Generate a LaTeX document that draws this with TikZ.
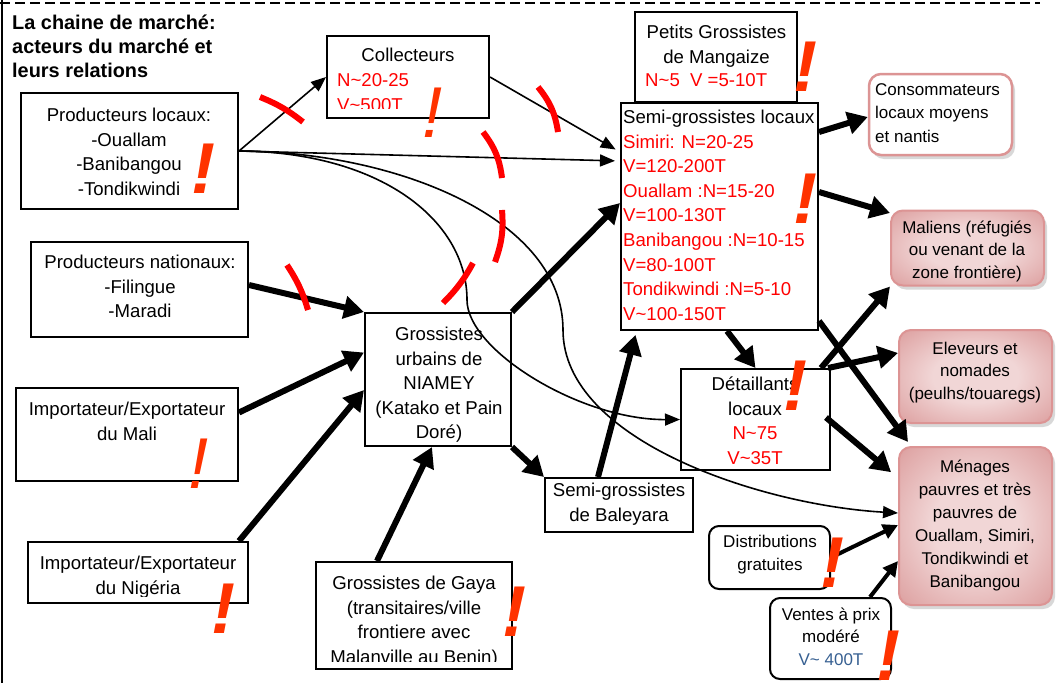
\documentclass[tikz,border=0pt]{standalone}
\usepackage{fontspec}
\setmainfont{Liberation Sans}
\usetikzlibrary{arrows.meta,shadows}
\definecolor{rtext}{RGB}{255,0,0}
\definecolor{excl}{RGB}{255,51,0}
\definecolor{vblue}{RGB}{55,96,146}
\definecolor{pinkL}{RGB}{241,214,214}
\definecolor{pinkM}{RGB}{224,168,168}
\definecolor{pinkD}{RGB}{200,115,115}
\definecolor{pinkB}{RGB}{220,148,148}
\pgfdeclareradialshading{pinkrad}{\pgfpoint{0bp}{0bp}}{color(0bp)=(pinkL); color(14bp)=(pinkL); color(32bp)=(pinkM); color(48bp)=(pinkD); color(72bp)=(pinkD)}
\newcommand{\st}{\rule{0pt}{1em}}
\newcommand{\fA}{\fontsize{18.6}{24.6}\selectfont}
\newcommand{\fB}{\fontsize{17}{23}\selectfont}
\newcommand{\fT}{\fontsize{19.9}{24.2}\selectfont\bfseries}
\newcommand{\fE}{\fontsize{72}{72}\selectfont\bfseries\itshape}
\newcommand{\fEt}{\fontsize{72}{72}\selectfont\itshape}
\begin{document}
\begin{tikzpicture}[x=1pt,y=-1pt,
  box/.style={draw=black, line width=2pt, fill=white, inner sep=0pt},
  pinkbox/.style={draw=pinkB, line width=2pt, rounded corners=12pt, shading=pinkrad, inner sep=0pt,
     drop shadow={shadow xshift=3pt, shadow yshift=-4pt, fill=black!30}},
  whitebox/.style={draw=pinkB, line width=2.5pt, rounded corners=12pt, fill=white, inner sep=0pt,
     drop shadow={shadow xshift=3pt, shadow yshift=-4pt, fill=black!30}},
  roundbox/.style={draw=black, line width=2pt, rounded corners=10pt, fill=white, inner sep=0pt},
  txt/.style={inner sep=0pt, align=center, font=\fA},
  txts/.style={inner sep=0pt, align=center, font=\fB},
  athin/.style={line width=1.6pt, -{Triangle[length=15pt,width=12pt]}},
  athick/.style={line width=6pt, -{Triangle[length=20pt,width=22pt]}},
  amid/.style={line width=4pt, -{Triangle[length=15pt,width=15pt]}},
  rmark/.style={draw=red, line width=6pt},
  ex/.style={inner sep=0pt, anchor=base, text=excl, font=\fE},
  ext/.style={inner sep=0pt, anchor=base, text=excl, font=\fEt}]
\useasboundingbox (0,0) rectangle (1056,683);
\fill[white] (0,0) rectangle (1056,683);
\draw[line width=2pt, dash pattern=on 10pt off 5pt] (0,3) -- (1040,3);
\draw[line width=2pt] (2,0) -- (2,683);

% title
\node[anchor=north west, inner sep=0pt, align=left, font=\fT] (title) at (12,9.3)
  {\st La chaine de marché:\\acteurs du marché et\\leurs relations};

% boxes
\node[box, minimum width=217pt, minimum height=116pt] (plocal) at (129.5,151) {};
\node[box, minimum width=162pt, minimum height=82pt] (coll) at (408,77) {};
\node[box, minimum width=162pt, minimum height=90pt] (petits) at (716,57) {};
\node[box, minimum width=197pt, minimum height=227pt] (semi) at (719.5,216.5) {};
\node[whitebox, minimum width=143pt, minimum height=81pt] (conso) at (940.5,114.5) {};
\node[pinkbox, minimum width=153pt, minimum height=75pt] (maliens) at (967.5,248) {};
\node[pinkbox, minimum width=153pt, minimum height=93pt] (eleveurs) at (975.5,376.5) {};
\node[pinkbox, minimum width=153pt, minimum height=158pt] (menages) at (975.5,526) {};
\node[box, minimum width=217pt, minimum height=95pt] (pnat) at (139.5,289.5) {};
\node[box, minimum width=146pt, minimum height=133pt] (niamey) at (438,379.5) {};
\node[box, minimum width=222pt, minimum height=93pt] (imali) at (127,434.5) {};
\node[box, minimum width=220pt, minimum height=61pt] (inig) at (138,572.5) {};
\node[box, minimum width=196pt, minimum height=107pt] (gaya) at (414,615.5) {};
\node[box, minimum width=148pt, minimum height=54pt] (baley) at (619,505) {};
\node[box, minimum width=149pt, minimum height=101pt] (detail) at (755.5,419.5) {};
\node[roundbox, minimum width=121pt, minimum height=63pt] (distrib) at (769.5,557.5) {};
\node[roundbox, minimum width=121pt, minimum height=81pt] (ventes) at (830.5,638.5) {};

% texts
\node[txt, anchor=north] (plocalT) at (129,102.7) {\st Producteurs locaux:\\-Ouallam\\-Banibangou\\-Tondikwindi};
\begin{scope}
\clip (coll.north west) rectangle ([yshift=11pt]coll.south east);
\node[txt, anchor=north] (collT) at (408,42.7) {\st Collecteurs};
\node[txt, anchor=north west, align=left, text=rtext] (collR) at (337,67.7) {\st N\textasciitilde 20-25\\V\textasciitilde 500T};
\end{scope}
\node[txt, anchor=north] (petitsT) at (716.5,19.7) {\st Petits Grossistes\\de Mangaize};
\node[txt, anchor=north west, text=rtext] (petitsR) at (645,67.7) {\st N\textasciitilde 5\ \ V =5-10T};
\node[txt, anchor=north west, align=left] (semiT) at (623,104.7) {\st Semi-grossistes locaux\\
  \textcolor{rtext}{Simiri: N=20-25}\\\textcolor{rtext}{V=120-200T}\\
  \textcolor{rtext}{Ouallam :N=15-20}\\\textcolor{rtext}{V=100-130T}\\
  \textcolor{rtext}{Banibangou :N=10-15}\\\textcolor{rtext}{V=80-100T}\\
  \textcolor{rtext}{Tondikwindi :N=5-10}\\\textcolor{rtext}{V\textasciitilde 100-150T}};
\node[txts, anchor=north west, align=left, font=\fontsize{17}{23.3}\selectfont] (consoT) at (875,78.2) {\st Consommateurs\\locaux moyens\\et nantis};
\begin{scope}
\clip (maliens.north west) rectangle ([yshift=4pt]maliens.south east);
\node[txts, anchor=north, font=\fontsize{17}{22.5}\selectfont] (maliensT) at (967,216.2) {\st Maliens (réfugiés\\ou venant de la\\zone frontière)};
\end{scope}
\node[txts, anchor=north, font=\fontsize{17}{22.5}\selectfont] (eleveursT) at (975,337.2) {\st Eleveurs et\\nomades\\(peulhs/touaregs)};
\node[txts, anchor=north] (menagesT) at (975,455.2) {\st Ménages\\pauvres et très\\pauvres de\\Ouallam, Simiri,\\Tondikwindi et\\Banibangou};
\node[txts, anchor=north] (distribT) at (770,530.2) {\st Distributions\\gratuites};
\node[txts, anchor=north, font=\fontsize{17}{22.5}\selectfont] (ventesT) at (831,603.2) {\st Ventes à prix\\modéré\\\textcolor{vblue}{V\textasciitilde\ 400T}};
\node[txt, anchor=north] (detailT) at (755,371.7) {\st Détaillants\\locaux\\\textcolor{rtext}{N\textasciitilde 75}\\\textcolor{rtext}{V\textasciitilde 35T}};
\node[txt, anchor=north] (baleyT) at (619,477.7) {\st Semi-grossistes\\de Baleyara};
\node[txt, anchor=north] (niameyT) at (439,321.7) {\st Grossistes\\urbains de\\NIAMEY\\(Katako et Pain\\Doré)};
\begin{scope}
\clip (gaya.north west) rectangle ([yshift=9pt]gaya.south east);
\node[txt, anchor=north] (gayaT) at (414,570.7) {\st Grossistes de Gaya\\(transitaires/ville\\frontiere avec\\Malanville au Benin)};
\end{scope}
\node[txt, anchor=north] (pnatT) at (140,249.7) {\st Producteurs nationaux:\\-Filingue\\-Maradi};
\node[txt, anchor=north] (imaliT) at (127,396.7) {\st Importateur/Exportateur\\du Mali};
\begin{scope}
\clip (inig.north west) rectangle ([yshift=8pt]inig.south east);
\node[txt, anchor=north] (inigT) at (138,550.7) {\st Importateur/Exportateur\\du Nigéria};
\end{scope}

% thin arrows
\draw[athin] (plocal.east) -- (coll.west);
\draw[athin, shorten >=5pt] (coll.east) -- ([yshift=64.5pt]semi.west);
\draw[athin, shorten >=5pt] (plocal.east) -- ([yshift=55.5pt]semi.west);
\draw[athin] (plocal.east) .. controls (380,152) and (467,220) .. (467,300)
   .. controls (467,350) and (580,420) .. (detail.west);
\draw[athin] (plocal.east) .. controls (400,152) and (563,220) .. (563,330)
   .. controls (563,440) and (760,505) .. ([yshift=13pt]menages.west);

% thick arrows
\draw[athick] ([yshift=4.5pt]pnat.east) -- (niamey.north west);
\draw[athick] ([yshift=22pt]imali.east) -- ([yshift=27pt]niamey.west);
\draw[athick] ([xshift=-10pt]inig.north east) -- ([yshift=-10.5pt]niamey.west);
\draw[athick] ([xshift=-37pt]gaya.north) -- ([xshift=-6pt]niamey.south);
\draw[athick] (niamey.north east) -- ([yshift=13.5pt]semi.west);
\draw[athick] (niamey.south east) -- (baley.north west);
\draw[athick, shorten >=4pt] ([xshift=-21pt]baley.north) -- ([xshift=-83pt]semi.south);
\draw[athick] ([xshift=7.5pt]semi.south) -- (detail.north);
\draw[athick] ([yshift=84.5pt]semi.east) -- ([yshift=-2.5pt]conso.west);
\draw[athick] ([yshift=24.5pt]semi.east) -- ([yshift=35pt]maliens.west);
\draw[athick, shorten >=5pt] ([yshift=10pt]semi.south east) -- ([xshift=13pt]menages.north west);
\draw[athick] ([xshift=-10pt]detail.north east) -- (maliens.south west);
\draw[athick] ([xshift=-3pt]detail.north east) -- ([yshift=23.5pt]eleveurs.west);
\draw[athick, shorten >=9pt] ([xshift=-5pt,yshift=2pt]detail.east) -- ([yshift=48pt]menages.west);
\draw[amid] (distrib.east) -- ([yshift=1pt]menages.west);
\draw[amid] ([xshift=39.5pt]ventes.north) -- ([yshift=-35pt]menages.west);

% red cut marks
\draw[rmark] (260,97) to[bend left=8] (303,122);
\draw[rmark] (538,87) to[bend left=15] (558,132);
\draw[rmark] (483,132) to[bend left=15] (502,178);
\draw[rmark] (502,210) to[bend left=12] (495,262);
\draw[rmark] (473,263) to[bend left=8] (443,303);
\draw[rmark] (287,265) to[bend left=8] (308,310);

% exclamation marks
\node[ex] (e1) at (203,193) {!};
\node[ext] (e2) at (432,137) {!};
\node[ex] (e3) at (805,91) {!};
\node[ex] (e4) at (805,223) {!};
\node[ex] (e5) at (795,410) {!};
\node[ex] (e6) at (832,587) {!};
\node[ex] (e7) at (888,680) {!};
\node[ext] (e8) at (198,488) {!};
\node[ex] (e9) at (223,633) {!};
\node[ex] (e10) at (514,636) {!};
\end{tikzpicture}
\end{document}
